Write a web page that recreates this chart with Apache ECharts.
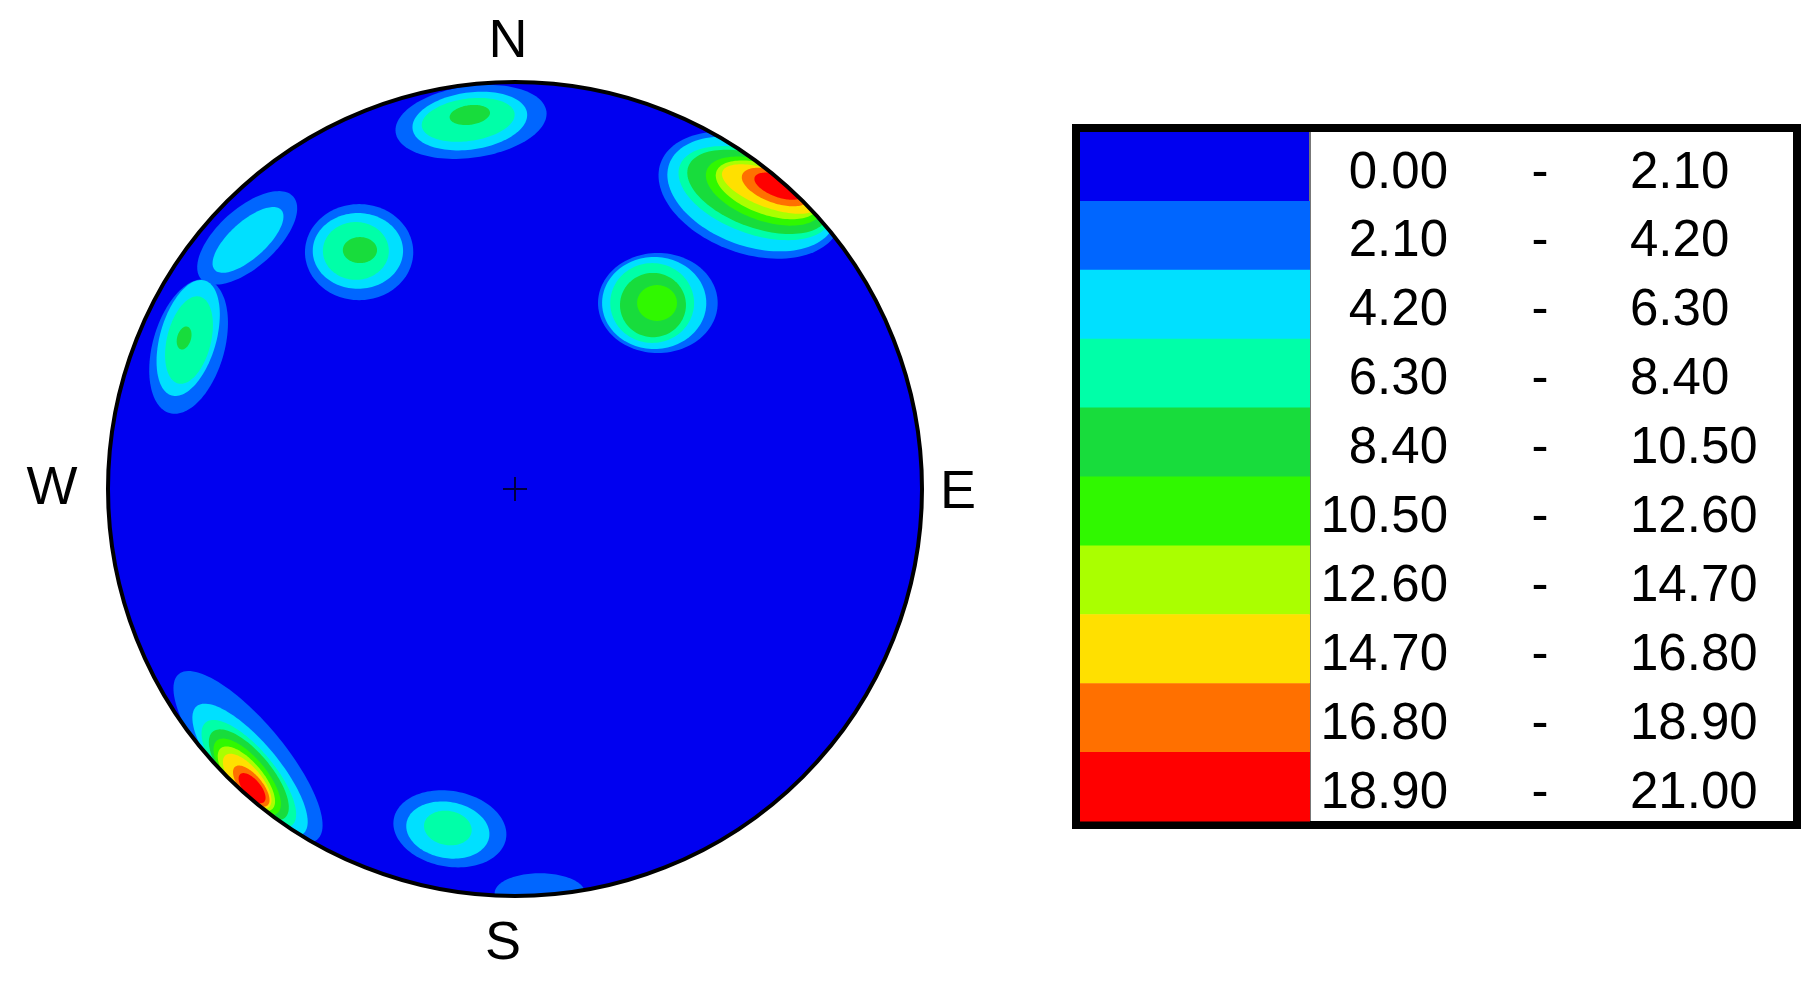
<!DOCTYPE html>
<html><head><meta charset="utf-8">
<script src="https://cdn.jsdelivr.net/npm/echarts@6/dist/echarts.min.js"></script>
<style>html,body{margin:0;padding:0;background:#fff}#c{width:1819px;height:984px}</style>
</head><body><div id="c"></div>
<script>
// ---------- DATA ----------
const classBreaks = [0.00, 2.10, 4.20, 6.30, 8.40, 10.50, 12.60, 14.70, 16.80, 18.90, 21.00];
const classColors = ['#0000F0','#0066FF','#00E0FF','#00FFA8','#18DC3C','#30F800','#AAFF00','#FFE000','#FF7000','#FF0000'];
const compassLabels = ['N','E','S','W'];
const compassAzimuths = [0, 90, 180, 270];

// contour envelopes on the unit net: [x, y, semiAxisA, semiAxisB, tiltDeg, classIndex]
const netDisk = [[0, 0, 1, 1, 0, 0]];
const clusterNorth = [
  [-0.108, 0.902, 0.187, 0.088, 8, 1],
  [-0.111, 0.904, 0.142, 0.070, 8, 2],
  [-0.115, 0.907, 0.115, 0.052, 8, 3],
  [-0.111, 0.919, 0.050, 0.024, 8, 4]
];
const clusterNorthEast = [
  [0.577, 0.722, 0.233, 0.143, -20, 1],
  [0.582, 0.725, 0.216, 0.128, -20, 2],
  [0.590, 0.727, 0.197, 0.100, -20, 3],
  [0.597, 0.730, 0.182, 0.088, -20, 4],
  [0.612, 0.732, 0.150, 0.072, -20, 5],
  [0.619, 0.735, 0.132, 0.060, -20, 6],
  [0.627, 0.737, 0.125, 0.046, -20, 7],
  [0.641, 0.742, 0.088, 0.039, -20, 8],
  [0.649, 0.744, 0.064, 0.027, -20, 9]
];
const clusterNorthWestUpper = [
  [-0.658, 0.617, 0.152, 0.072, 42, 1],
  [-0.656, 0.612, 0.110, 0.045, 42, 2]
];
const clusterNorthWestLower = [
  [-0.802, 0.350, 0.170, 0.088, 74, 1],
  [-0.803, 0.371, 0.147, 0.069, 74, 2],
  [-0.801, 0.366, 0.110, 0.054, 76, 3],
  [-0.813, 0.371, 0.029, 0.017, 74, 4]
];
const clusterNorthWestInner = [
  [-0.383, 0.582, 0.133, 0.118, 0, 1],
  [-0.386, 0.585, 0.111, 0.093, 0, 2],
  [-0.391, 0.585, 0.081, 0.071, 0, 3],
  [-0.381, 0.587, 0.042, 0.032, 0, 4]
];
const clusterNorthEastInner = [
  [0.351, 0.457, 0.147, 0.123, 0, 1],
  [0.342, 0.457, 0.128, 0.113, 0, 2],
  [0.337, 0.457, 0.103, 0.098, 0, 3],
  [0.339, 0.452, 0.081, 0.079, 0, 4],
  [0.349, 0.457, 0.049, 0.044, 0, 5]
];
const clusterSouthWest = [
  [-0.656, -0.658, 0.265, 0.088, -50, 1],
  [-0.651, -0.690, 0.204, 0.070, -50, 2],
  [-0.654, -0.700, 0.165, 0.062, -50, 3],
  [-0.654, -0.702, 0.138, 0.055, -50, 4],
  [-0.658, -0.707, 0.116, 0.047, -50, 5],
  [-0.660, -0.712, 0.098, 0.041, -50, 6],
  [-0.658, -0.718, 0.083, 0.035, -50, 7],
  [-0.648, -0.730, 0.062, 0.027, -50, 8],
  [-0.646, -0.735, 0.045, 0.021, -50, 9]
];
const clusterSouth = [
  [-0.160, -0.835, 0.140, 0.093, -10, 1],
  [-0.165, -0.838, 0.103, 0.069, -10, 2],
  [-0.165, -0.833, 0.059, 0.042, -10, 3]
];
const clusterSouthEdge = [
  [0.061, -0.993, 0.111, 0.049, 0, 1]
];

// ---------- BUILD ----------
const contours = [].concat(netDisk, clusterNorth, clusterNorthEast, clusterNorthWestUpper,
  clusterNorthWestLower, clusterNorthWestInner, clusterNorthEastInner, clusterSouthWest,
  clusterSouth, clusterSouthEdge).sort((p, q) => p[5] - q[5]);

const fmt = v => v.toFixed(2);
const legendRows = classColors.map((c, i) => [0.5, i, fmt(classBreaks[i]), fmt(classBreaks[i + 1])]);
const legendCats = legendRows.map((r, i) => String(i));
const FONT = '"Liberation Sans", Arial, sans-serif';

function renderContour(params, api) {
  const c = api.coord([api.value(0), api.value(1)]);
  const s = api.size([api.value(2), api.value(3)]);
  const th = api.value(4) * Math.PI / 180, ct = Math.cos(th), st = Math.sin(th);
  const pts = [];
  const n = 120;
  for (let i = 0; i < n; i++) {
    const t = i / n * 2 * Math.PI;
    const ex = s[0] * Math.cos(t), ey = s[1] * Math.sin(t);
    pts.push([c[0] + ex * ct - ey * st, c[1] - (ex * st + ey * ct)]);
  }
  return { type: 'polygon', shape: { points: pts }, style: { fill: classColors[api.value(5)], stroke: null } };
}

function renderFrame(params, api) {
  const c = api.coord([0, 0]);
  const R = api.size([1, 1])[0];
  return { type: 'group', children: [
    { type: 'ring', shape: { cx: c[0], cy: c[1], r: R + 70, r0: R + 1 }, style: { fill: '#fff' } },
    { type: 'circle', shape: { cx: c[0], cy: c[1], r: R }, style: { fill: null, stroke: '#000', lineWidth: 4 } },
    { type: 'line', shape: { x1: c[0] - 12, y1: c[1], x2: c[0] + 12, y2: c[1] }, style: { stroke: '#000040', lineWidth: 2 } },
    { type: 'line', shape: { x1: c[0], y1: c[1] - 12, x2: c[0], y2: c[1] + 12 }, style: { stroke: '#000040', lineWidth: 2 } }
  ]};
}

const compassNudge = { N: [-7, -40], E: [36, 4], S: [-12, 48], W: [-56, 0] };
function renderCompass(params, api) {
  const p = api.coord([api.value(0), api.value(1)]);
  const lab = compassLabels[params.dataIndex];
  const d = compassNudge[lab];
  return { type: 'text', x: p[0] + d[0], y: p[1] + d[1],
    style: { text: lab, fill: '#000', fontSize: 54, fontFamily: FONT, align: 'center', verticalAlign: 'middle' } };
}

function renderLegend(params, api) {
  const cs = params.coordSys;
  const i = api.value(1);
  const yc = api.coord([0, i])[1];
  const bh = cs.height / classColors.length;
  const x0 = cs.x;
  const swW = 230;
  const ty = yc + 7;
  const children = [
    { type: 'rect', shape: { x: x0, y: yc - bh / 2, width: swW, height: bh + 0.5 }, style: { fill: classColors[i] } },
    { type: 'text', x: x0 + 368, y: ty, style: { text: legendRows[i][2], fill: '#000', fontSize: 51, fontFamily: FONT, align: 'right', verticalAlign: 'middle' } },
    { type: 'text', x: x0 + 460, y: ty, style: { text: '-', fill: '#000', fontSize: 51, fontFamily: FONT, align: 'center', verticalAlign: 'middle' } },
    { type: 'text', x: x0 + 550, y: ty, style: { text: legendRows[i][3], fill: '#000', fontSize: 51, fontFamily: FONT, align: 'left', verticalAlign: 'middle' } }
  ];
  if (params.dataIndex === 0) {
    children.unshift({ type: 'rect', shape: { x: cs.x, y: cs.y, width: cs.width, height: cs.height }, style: { fill: '#fff' } });
    children.push({ type: 'line', shape: { x1: x0 + swW, y1: cs.y, x2: x0 + swW, y2: cs.y + cs.height }, style: { stroke: '#777', lineWidth: 2 } });
    children.push({ type: 'rect', shape: { x: cs.x - 4, y: cs.y - 4, width: cs.width + 8, height: cs.height + 8 }, style: { fill: null, stroke: '#000', lineWidth: 8 } });
  }
  return { type: 'group', children };
}

const chart = echarts.init(document.getElementById('c'), null, { renderer: 'canvas' });
chart.setOption({
  backgroundColor: '#fff',
  animation: false,
  grid: [
    { left: 108, top: 82, width: 814, height: 814, show: false },
    { left: 1080, top: 132, width: 713, height: 689, show: false }
  ],
  xAxis: [
    { gridIndex: 0, type: 'value', min: -1, max: 1, show: false },
    { gridIndex: 1, type: 'value', min: 0, max: 1, show: false }
  ],
  yAxis: [
    { gridIndex: 0, type: 'value', min: -1, max: 1, show: false },
    { gridIndex: 1, type: 'category', data: legendCats, inverse: true, show: false }
  ],
  series: [
    { type: 'custom', name: 'contours', xAxisIndex: 0, yAxisIndex: 0, clip: false, z: 2,
      encode: { x: 0, y: 1 }, renderItem: renderContour, data: contours },
    { type: 'custom', name: 'frame', xAxisIndex: 0, yAxisIndex: 0, clip: false, z: 3,
      encode: { x: 0, y: 1 }, renderItem: renderFrame, data: [[0, 0]] },
    { type: 'custom', name: 'compass', xAxisIndex: 0, yAxisIndex: 0, clip: false, z: 4,
      encode: { x: 0, y: 1 }, renderItem: renderCompass,
      data: compassAzimuths.map(a => [Math.sin(a * Math.PI / 180), Math.cos(a * Math.PI / 180)]) },
    { type: 'custom', name: 'legend', xAxisIndex: 1, yAxisIndex: 1, clip: false, z: 2,
      encode: { x: 0, y: 1 }, renderItem: renderLegend, data: legendRows.map(r => [r[0], r[1]]) }
  ]
});
</script>
</body></html>
